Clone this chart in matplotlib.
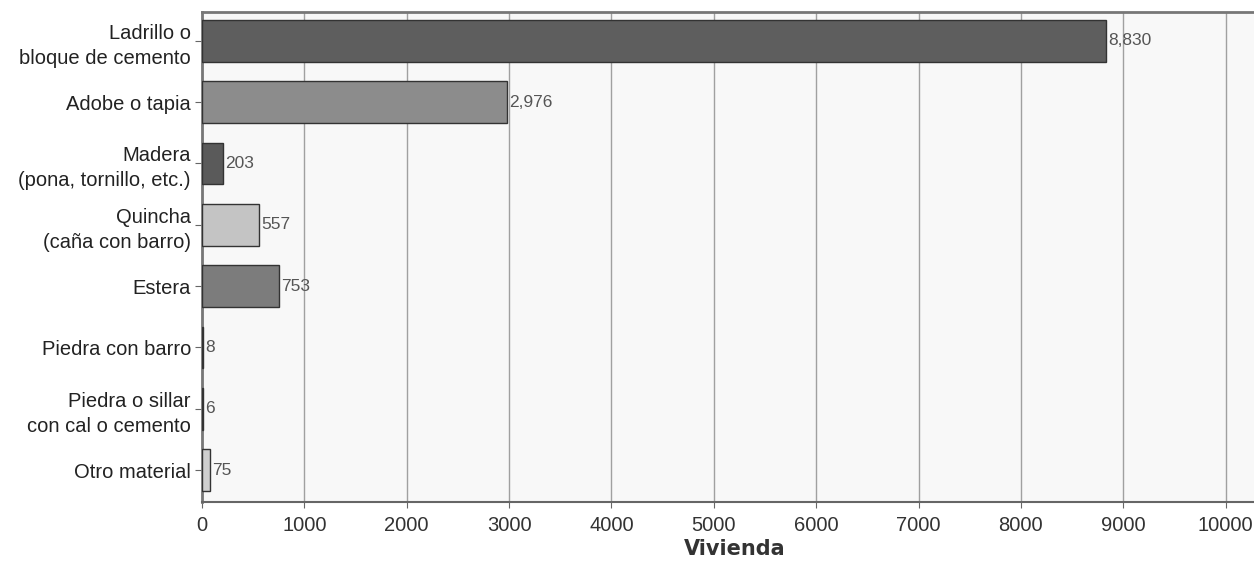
import matplotlib
matplotlib.use("Agg")
import matplotlib.pyplot as plt

categories = ["Ladrillo o\nbloque de cemento", "Adobe o tapia", "Madera\n(pona, tornillo, etc.)",
              "Quincha\n(caña con barro)", "Estera", "Piedra con barro",
              "Piedra o sillar\ncon cal o cemento", "Otro material"]
values = [8830, 2976, 203, 557, 753, 8, 6, 75]
value_labels = ["8,830", "2,976", "203", "557", "753", "8", "6", "75"]
bar_colors = ["#5e5e5e", "#8c8c8c", "#5a5a5a", "#c4c4c4", "#7c7c7c", "#9a9a9a", "#9a9a9a", "#cfcfcf"]
xticks = [0, 1000, 2000, 3000, 4000, 5000, 6000, 7000, 8000, 9000, 10000]

plt.rcParams['font.family'] = ['Liberation Sans', 'DejaVu Sans']
fig = plt.figure(figsize=(12.54, 5.69), dpi=100)
ax = fig.add_axes([202/1254, 1 - 502/569, (1254-202)/1254 + 0.01, (502-12)/569])
ax.set_facecolor("#f8f8f8")
y = list(range(len(categories)))
ax.barh(y, values, height=0.68, color=bar_colors, edgecolor="#333333", linewidth=1.0, zorder=3)
for yi, v, lab in zip(y, values, value_labels):
    ax.text(v + 20, yi, lab, va="center", ha="left", fontsize=12.5, color="#555555", zorder=4)
ax.set_xlim(0, 10400)
ax.set_ylim(7.52, -0.47)
ax.set_yticks(y)
ax.set_yticklabels(categories, fontsize=14.5, color="#222222", linespacing=1.4)
ax.set_xticks(xticks)
ax.set_xticklabels([str(t) for t in xticks], fontsize=14.5, color="#333333")
ax.xaxis.grid(True, color="#a0a0a0", linewidth=1.0, zorder=0)
ax.tick_params(axis="y", length=5, color="#666666", pad=3)
ax.tick_params(axis="x", length=4, color="#666666", pad=6)
ax.spines["right"].set_visible(False)
ax.spines["top"].set_color("#777777")
ax.spines["top"].set_linewidth(2)
ax.spines["left"].set_color("#777777")
ax.spines["left"].set_linewidth(2)
ax.spines["bottom"].set_color("#666666")
ax.spines["bottom"].set_linewidth(1.5)
ax.set_xlabel("Vivienda", fontsize=15, fontweight="bold", family="DejaVu Sans", color="#333333", labelpad=3)
fig.savefig("out.png", dpi=100)
